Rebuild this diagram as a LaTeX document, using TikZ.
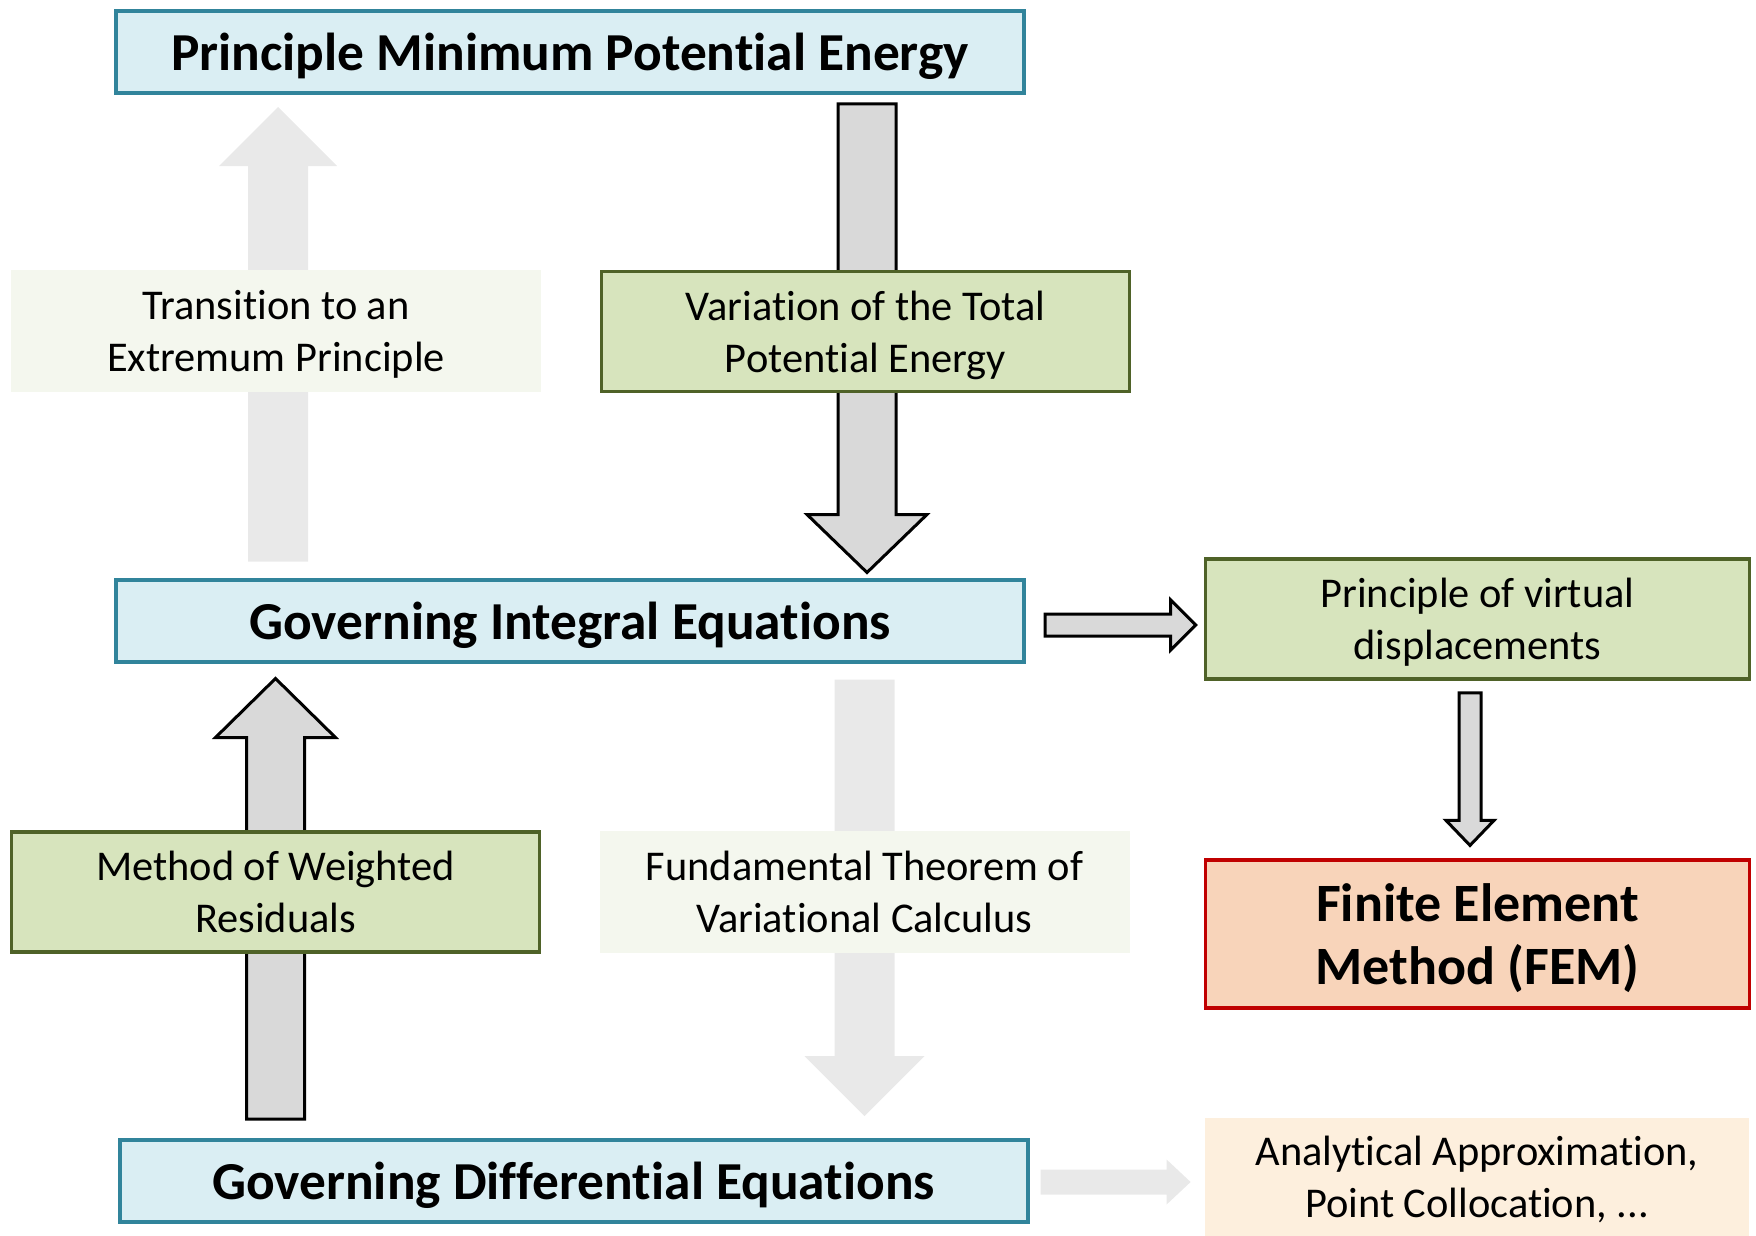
\documentclass[tikz,border=0pt]{standalone}
\usepackage{fontspec}
\setmainfont{Carlito}[Ligatures=NoCommon]
\usetikzlibrary{calc, backgrounds}
\definecolor{boxblue}{HTML}{DAEEF3}
\definecolor{edgeblue}{HTML}{31849B}
\definecolor{boxgreen}{HTML}{D7E4BD}
\definecolor{edgegreen}{HTML}{4F6228}
\definecolor{palegreen}{HTML}{F4F7EE}
\definecolor{boxsalmon}{HTML}{F8D4BA}
\definecolor{edgered}{HTML}{C00000}
\definecolor{boxcream}{HTML}{FDEFDD}
\definecolor{arrowgrey}{HTML}{D9D9D9}
\definecolor{fadegrey}{HTML}{E9E9E9}

% [style]{from}{to}{shaft half width}{head half width}{head length}
\newcommand{\fatarrow}[6][]{%
  \coordinate (fa-c) at ($(#3)!#6!(#2)$);
  \draw[#1] ($(#2)!#4!90:(#3)$) -- ($(fa-c)!#4!90:(#3)$) -- ($(fa-c)!#5!90:(#3)$)
    -- (#3) -- ($(fa-c)!#5!-90:(#3)$) -- ($(fa-c)!#4!-90:(#3)$)
    -- ($(#2)!#4!-90:(#3)$) -- cycle;}

\begin{document}
\begin{tikzpicture}[x=0.5pt, y=-0.5pt,
  txt/.style={align=center, inner sep=0, text depth=0pt, font=\fontsize{21.2}{26}\selectfont},
  titlebox/.style={draw=edgeblue, fill=boxblue, line width=2pt, inner sep=0, text depth=0pt,
    minimum width=454pt, minimum height=41pt, font=\fontsize{26.7}{32}\selectfont\bfseries},
  stepbox/.style={txt, draw=edgegreen, fill=boxgreen, line width=1.8pt,
    minimum width=264pt, minimum height=60pt},
  notebox/.style={txt, fill=palegreen, minimum width=265pt, minimum height=61pt},
  fembox/.style={draw=edgered, fill=boxsalmon, line width=1.6pt, align=center, inner sep=0,
    text depth=0pt, minimum width=272pt, minimum height=74pt,
    font=\fontsize{27}{31.5}\selectfont\bfseries},
  otherbox/.style={txt, fill=boxcream, minimum width=272pt, minimum height=59pt},
  darkarrow/.style={fill=arrowgrey, draw=black, line width=1.5pt, line join=miter},
  fadearrow/.style={fill=fadegrey, draw=none}]

\useasboundingbox (0,0) rectangle (1756,1236);

% ============================================== left / centre column
\node[titlebox] (pmpe) at (570,52) {Principle Minimum Potential Energy};
\node[notebox] (trans) at (276,331) {Transition to an\\Extremum Principle};
\node[stepbox] (var) at (865.5,331.5) {Variation of the Total\\Potential Energy};
\node[titlebox] (gie) at (570,620.5) {Governing Integral Equations};
\node[stepbox] (mwr) at (275.5,892) {Method of Weighted\\Residuals};
\node[notebox] (ftvc) at (864.5,892) {Fundamental Theorem of\\Variational Calculus};
\node[titlebox] (gde) at (573.5,1181) {Governing Differential Equations};

% ============================================== right column
\node[stepbox, minimum width=272pt] (pvd) at (1477.5,619) {Principle of virtual\\displacements};
\node[fembox] (fem) at (1477.5,934) {Finite Element\\Method (FEM)};
\node[otherbox] (ana) at (1477,1177) {Analytical Approximation,\\Point Collocation, ...};

% ---- arrow ends
\coordinate (trans-s) at ($(gie.north -| trans.center)+(2,-16)$);
\coordinate (trans-e) at ($(pmpe.south -| trans.center)+(2,12)$);
\coordinate (var-s) at ($(pmpe.south -| var.center)+(1.5,9)$);
\coordinate (var-e) at ($(gie.north -| var.center)+(1.5,-5)$);
\coordinate (mwr-s) at ($(gde.north -| mwr.center)+(0,-19)$);
\coordinate (mwr-e) at ($(gie.south -| mwr.center)+(0,15)$);
\coordinate (ftvc-s) at ($(gie.south -| ftvc.center)+(0,16)$);
\coordinate (ftvc-e) at ($(gde.north -| ftvc.center)+(0,-22)$);
\coordinate (pvd-s) at ($(gie.east)+(19,4.5)$);
\coordinate (pvd-e) at ($(pvd.west)+(-8,6)$);
\coordinate (fem-s) at ($(pvd.south)+(-7.5,12)$);
\coordinate (fem-e) at ($(fem.north)+(-7.5,-13)$);
\coordinate (ana-s) at ($(gde.east)+(11,1)$);
\coordinate (ana-e) at ($(ana.west)+(-14,5)$);

% ---- block arrows behind the boxes
\begin{scope}[on background layer]
\fatarrow[fadearrow]{trans-s}{trans-e}{15pt}{29.5pt}{29.5pt}
\fatarrow[darkarrow]{var-s}{var-e}{14.5pt}{30pt}{29pt}
\fatarrow[darkarrow]{mwr-s}{mwr-e}{14.5pt}{30pt}{29.5pt}
\fatarrow[fadearrow]{ftvc-s}{ftvc-e}{15pt}{30pt}{30pt}
\fatarrow[darkarrow]{pvd-s}{pvd-e}{5.5pt}{12.5pt}{12.5pt}
\fatarrow[darkarrow]{fem-s}{fem-e}{5.5pt}{12pt}{12.5pt}
\fatarrow[fadearrow]{ana-s}{ana-e}{6.25pt}{11.25pt}{12pt}
\end{scope}

\end{tikzpicture}
\end{document}
